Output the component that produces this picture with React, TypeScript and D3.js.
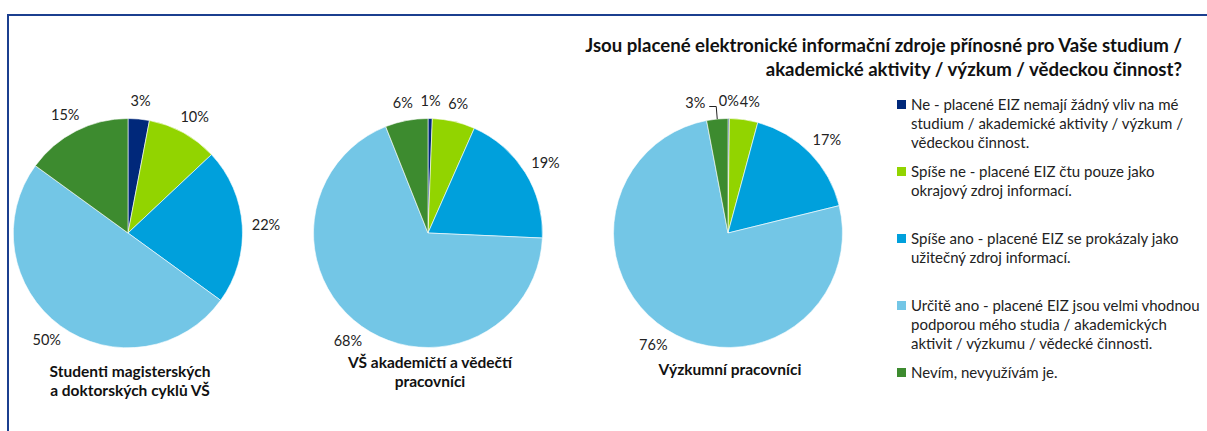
import React from "react";
import * as d3 from "d3";

const categories = [
  "Ne",
  "Spíše ne",
  "Spíše ano",
  "Určitě ano",
  "Nevím",
];

const legendLabels = [
  ["Ne - placené EIZ nemají žádný vliv na mé", "studium / akademické aktivity / výzkum /", "vědeckou činnost."],
  ["Spíše ne - placené EIZ čtu pouze jako", "okrajový zdroj informací."],
  ["Spíše ano - placené EIZ se prokázaly jako", "užitečný zdroj informací."],
  ["Určitě ano - placené EIZ jsou velmi vhodnou", "podporou mého studia / akademických", "aktivit / výzkumu / vědecké činnosti."],
  ["Nevím, nevyužívám je."],
];

const colors = ["#00287a", "#92d400", "#00a0dc", "#73c6e6", "#3d8b2f"];

const groupNames = [
  ["Studenti magisterských", "a doktorských cyklů VŠ"],
  ["VŠ akademičtí a vědečtí", "pracovníci"],
  ["Výzkumní pracovníci"],
];

const studentValues = [3, 10, 22, 50, 15];
const academicValues = [0.6, 6, 19, 68, 6];
const researcherValues = [0.2, 4, 17, 76, 3];
const seriesValues = [studentValues, academicValues, researcherValues];
const valueLabels = [
  ["3%", "10%", "22%", "50%", "15%"],
  ["1%", "6%", "19%", "68%", "6%"],
  ["0%", "4%", "17%", "76%", "3%"],
];

const titleLines = [
  "Jsou placené elektronické informační zdroje přínosné pro Vaše studium /",
  "akademické aktivity / výzkum / vědeckou činnost?",
];

const W = 1207;
const H = 431;
const FONT = "Lato, 'Open Sans', sans-serif";
const groupLabelY = [372, 363, 370];

type Lbl = { x: number; y: number; w: number; h: number; text: string; leader: string | null };

export default function App() {
  const pieGen = d3.pie<number>().sort(null).value((d) => d);
  const radius = 114.5;
  const xScale = d3.scaleLinear().domain([0, 2]).range([128, 728]);
  const cy = 233;
  const arcGen = d3.arc<d3.PieArcDatum<number>>().innerRadius(0).outerRadius(radius);

  return (
    <svg width={W} height={H} style={{ display: "block", position: "absolute", left: 0, top: 0 }} fontFamily={FONT}>
      <rect x={0} y={0} width={W} height={H} fill="#fff" />
      <line x1={8} y1={15} x2={W} y2={15} stroke="#1b3f8f" strokeWidth={2} />
      <line x1={8} y1={14} x2={8} y2={H} stroke="#1b3f8f" strokeWidth={2} />

      {titleLines.map((t, i) => (
        <text key={i} x={1182} y={45 + i * 24} dy="0.35em" textAnchor="end" fontWeight="bold" fontSize={18.6} fill="#111">
          {t}
        </text>
      ))}

      {seriesValues.map((vals, gi) => {
        const cx = xScale(gi);
        const arcs = pieGen(vals);
        const labels: Lbl[] = arcs.map((a, i) => {
          const mid = (a.startAngle + a.endAngle) / 2;
          const dx = Math.sin(mid);
          const dy = -Math.cos(mid);
          const text = valueLabels[gi][i];
          const w = text.length * 8.5;
          const h = 14;
          let x = cx + dx * (radius + 11) + (dx * w) / 2;
          let y = cy + dy * (radius + 11) + (dy * h) / 2;
          let leader: string | null = null;
          if (gi === 2 && i === 4) {
            const px = cx + dx * radius;
            const py = cy + dy * radius;
            x = px - 22;
            y = cy - radius - 16;
            leader = `M${px},${py}L${px - 1},${y + 4}L${x + 14},${y + 4}`;
          }
          return { x, y, w, h, text, leader };
        });
        // simple collision avoidance: push later labels clockwise (right on right half)
        for (let i = 1; i < labels.length; i++) {
          const a = labels[i - 1];
          const b = labels[i];
          if (Math.abs(a.y - b.y) < 14 && b.x >= cx - 5) {
            const need = (a.w + b.w) / 2 + 4;
            if (b.x - a.x < need) b.x = a.x + need;
          }
        }
        return (
          <g key={gi}>
            <g transform={`translate(${cx},${cy})`}>
              {arcs.map((a, i) => (
                <path key={i} d={arcGen(a) || ""} fill={colors[i]} stroke="#fff" strokeWidth={0.6} />
              ))}
            </g>
            {labels.map((l, i) => (
              <g key={i}>
                {l.leader && <path d={l.leader} fill="none" stroke="#222" strokeWidth={1} />}
                <text x={l.x} y={l.y} dy="0.35em" textAnchor="middle" fontSize={14.5} fill="#222">
                  {l.text}
                </text>
              </g>
            ))}
            {groupNames[gi].map((t, li) => (
              <text key={li} x={cx + 2} y={groupLabelY[gi] + li * 18.5} dy="0.35em" textAnchor="middle" fontWeight="bold" fontSize={15.5} fill="#111">
                {t}
              </text>
            ))}
          </g>
        );
      })}

      {categories.map((c, i) => {
        const y0 = 105 + i * 67;
        return (
          <g key={c}>
            <rect x={897} y={y0 - 5} width={9} height={9} fill={colors[i]} />
            {legendLabels[i].map((t, li) => (
              <text key={li} x={911} y={y0 + li * 18.7} dy="0.35em" fontSize={15} fill="#222">
                {t}
              </text>
            ))}
          </g>
        );
      })}
    </svg>
  );
}
